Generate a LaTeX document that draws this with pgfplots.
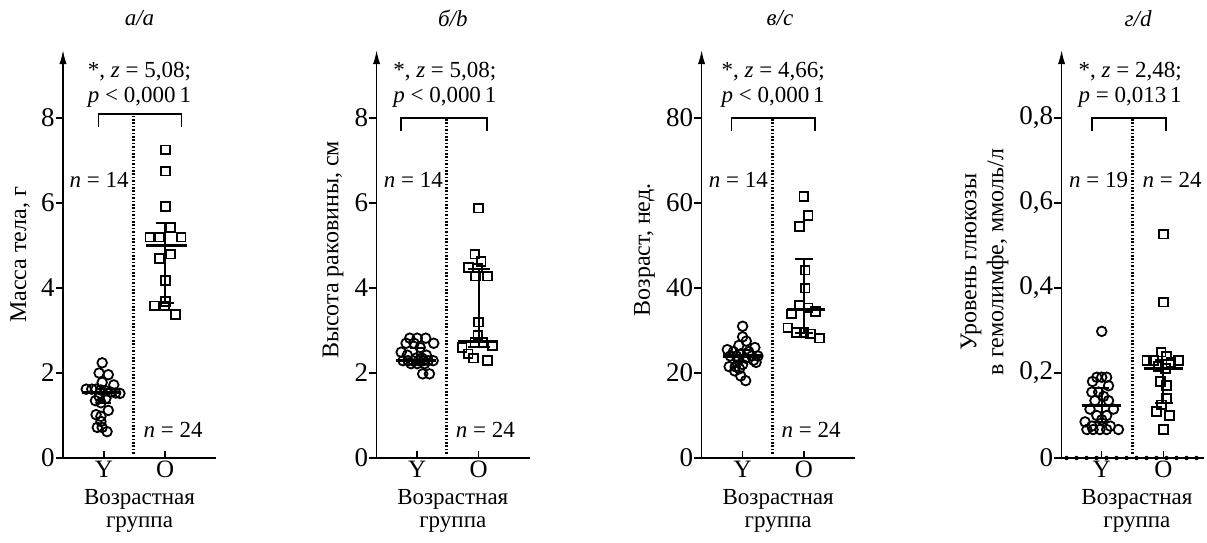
\documentclass[border=0pt]{standalone}
\usepackage{fontspec}
\setmainfont{Liberation Serif}
\usepackage{pgfplots}
\pgfplotsset{compat=1.18}
\usetikzlibrary{arrows.meta,calc}
\pgfplotsset{
  myax/.style={
    scale only axis, width=76.5pt, height=204pt,
    axis x line*=bottom, axis y line*=left,
    axis line style={line width=0.75pt},
    y axis line style={-{Latex[length=7pt,width=3.6pt]}},
    xtick={1,2}, xticklabels={Y,O},
    xmin=0.33, xmax=2.83, ymin=0,
    clip=false,
    xtick align=inside, ytick align=outside,
    major tick length=3.6pt,
    tick style={black, line width=0.75pt},
    minor tick num=0,
    /pgf/number format/assume math mode=true,
    /pgf/number format/use comma,
    /pgf/number format/1000 sep={},
    yticklabel style={inner xsep=0.4pt, font=\fontsize{13.5}{16}\selectfont},
    xticklabel style={inner ysep=1.5pt, font=\fontsize{12.5}{15}\selectfont},
  },
  circ/.style={only marks, mark=o, mark size=2.4pt, mark options={line width=0.9pt, black}},
  sq/.style={only marks, mark=square, mark size=2.2pt, mark options={line width=0.9pt, black}},
  med/.style={black, line width=1.6pt, no marks, forget plot},
  eb/.style={black, line width=1.0pt, no marks, forget plot},
}
\tikzset{
  dotv/.style={line width=1.2pt, dash pattern=on 0.8pt off 0.9pt},
  brk/.style={line width=0.75pt},
  xl1/.style={anchor=base, yshift=-23pt},
  xl2/.style={anchor=base, yshift=-34.8pt},
  yl/.style={rotate=90, font=\fontsize{12}{14}\selectfont},
}
\begin{document}
\fontsize{11.5}{14}\selectfont
\begin{tikzpicture}
\path[use as bounding box] (0,0) rectangle (603.5pt,-271pt);

% ---------------- Panel a ----------------
\begin{axis}[myax, name=a, at={(31.5pt,-229pt)}, anchor=south west,
  ymax=9.6, ytick={0,2,4,6,8}]
\addplot[circ] coordinates {(0.97,2.24) (0.92,2.0) (1.07,1.96) (0.97,1.78) (1.16,1.72) (0.71,1.62) (0.80,1.62) (0.87,1.62) (0.95,1.60) (1.03,1.58) (1.11,1.55) (1.19,1.53) (1.26,1.52) (0.92,1.45) (1.03,1.40) (0.86,1.35) (0.95,1.30) (1.07,1.12) (0.87,1.02) (0.95,0.98) (0.95,0.86) (0.89,0.72) (0.97,0.72) (1.05,0.62)};
\addplot[sq] coordinates {(2.0,7.25) (2.0,6.75) (2.0,5.92) (2.09,5.42) (1.75,5.2) (1.91,5.2) (2.26,5.2) (2.09,4.8) (1.91,4.7) (2.0,4.18) (2.0,3.68) (1.82,3.58) (1.99,3.58) (2.17,3.38)};
\addplot[med] coordinates {(0.64,1.55) (1.27,1.55)};
\addplot[eb] coordinates {(1,1.30) (1,1.62)};
\addplot[eb] coordinates {(0.88,1.62) (1.12,1.62)};
\addplot[eb] coordinates {(0.88,1.30) (1.12,1.30)};
\addplot[med] coordinates {(1.69,5.0) (2.35,5.0)};
\addplot[eb] coordinates {(2,3.65) (2,5.53)};
\addplot[eb] coordinates {(1.85,5.53) (2.15,5.53)};
\addplot[eb] coordinates {(1.90,3.65) (2.15,3.65)};
\draw[dotv] (axis cs:1.48,0.1) -- (axis cs:1.48,8.1);
\draw[brk] (axis cs:0.907,7.8) -- (axis cs:0.907,8.1) -- (axis cs:2.264,8.1) -- (axis cs:2.264,7.8);
\node at (axis cs:1.58,9.08) {*, \textit{z} = 5,08;};
\node at (axis cs:1.58,8.49) {\textit{p} < 0,000\,1};
\node at (axis cs:0.92,6.54) {\textit{n} = 14};
\node at (axis cs:2.13,0.66) {\textit{n} = 24};
\node at (axis cs:1.58,10.35) {\textit{а/a}};
\node[xl1] at (axis cs:1.58,0) {Возрастная};
\node[xl2] at (axis cs:1.58,0) {группа};
\end{axis}
\node[yl] at ($(a.south west)+(-21.5pt,101.5pt)$) {Масса тела, г};

% ---------------- Panel b ----------------
\begin{axis}[myax, name=b, at={(188.3pt,-229pt)}, anchor=south west,
  xmin=0.34, ymax=9.6, ytick={0,2,4,6,8}]
\addplot[circ] coordinates {(0.88,2.82) (1.0,2.82) (1.14,2.82) (0.82,2.70) (1.27,2.70) (0.95,2.70) (1.05,2.60) (0.74,2.49) (0.84,2.42) (1.15,2.42) (0.98,2.35) (1.08,2.35) (0.77,2.29) (0.85,2.29) (0.93,2.29) (1.02,2.29) (1.10,2.29) (1.18,2.29) (1.26,2.29) (0.90,2.22) (1.0,2.22) (1.12,2.22) (1.09,1.98) (1.20,1.98)};
\addplot[sq] coordinates {(2.0,5.88) (1.94,4.8) (2.04,4.62) (1.84,4.48) (1.99,4.47) (1.95,4.28) (2.14,4.28) (2.0,3.2) (1.99,2.88) (1.94,2.72) (2.07,2.72) (2.23,2.65) (1.73,2.6) (1.83,2.45) (1.92,2.35) (2.14,2.3)};
\addplot[med] coordinates {(0.66,2.29) (1.31,2.29)};
\addplot[eb] coordinates {(1,2.22) (1,2.60)};
\addplot[eb] coordinates {(0.88,2.60) (1.12,2.60)};
\addplot[eb] coordinates {(0.88,2.22) (1.12,2.22)};
\addplot[med] coordinates {(1.66,2.75) (2.31,2.75)};
\addplot[eb] coordinates {(2,2.62) (2,4.45)};
\addplot[eb] coordinates {(1.83,4.45) (2.18,4.45)};
\addplot[eb] coordinates {(1.83,2.62) (2.18,2.62)};
\draw[dotv] (axis cs:1.48,0.1) -- (axis cs:1.48,8.0);
\draw[brk] (axis cs:0.735,7.7) -- (axis cs:0.735,8.0) -- (axis cs:2.14,8.0) -- (axis cs:2.14,7.7);
\node at (axis cs:1.45,9.08) {*, \textit{z} = 5,08;};
\node at (axis cs:1.45,8.49) {\textit{p} < 0,000\,1};
\node at (axis cs:0.94,6.54) {\textit{n} = 14};
\node at (axis cs:2.11,0.66) {\textit{n} = 24};
\node at (axis cs:1.58,10.35) {\textit{б/b}};
\node[xl1] at (axis cs:1.58,0) {Возрастная};
\node[xl2] at (axis cs:1.58,0) {группа};
\end{axis}
\node[yl] at ($(b.south west)+(-21.8pt,104pt)$) {Высота раковины, см};

% ---------------- Panel c ----------------
\begin{axis}[myax, name=c, at={(350.8pt,-229pt)}, anchor=south west,
  ymax=96, ytick={0,20,40,60,80}]
\addplot[circ] coordinates {(1.0,31.0) (1.0,28.5) (1.06,27.5) (0.94,26.5) (1.2,26.0) (0.75,25.5) (0.85,25.0) (1.1,25.0) (0.97,24.5) (0.8,24.0) (0.9,24.0) (1.15,24.0) (1.25,24.0) (1.05,23.5) (0.93,23.0) (1.18,23.0) (1.22,22.5) (1.0,22.0) (0.78,21.5) (0.88,21.5) (0.95,21.0) (0.87,20.5) (0.97,19.3) (1.05,18.2)};
\addplot[sq] coordinates {(2.0,61.6) (2.07,57.0) (1.93,54.5) (2.02,44.2) (2.02,40.0) (1.93,35.9) (2.07,35.3) (2.19,34.5) (1.80,33.9) (1.74,30.6) (1.88,29.5) (2.0,29.5) (2.11,29.2) (2.26,28.2)};
\addplot[med] coordinates {(0.68,24.0) (1.34,24.0)};
\addplot[eb] coordinates {(1,22.5) (1,25.5)};
\addplot[eb] coordinates {(0.88,25.5) (1.12,25.5)};
\addplot[eb] coordinates {(0.88,22.5) (1.12,22.5)};
\addplot[med] coordinates {(1.72,35.0) (2.34,35.0)};
\addplot[eb] coordinates {(2,29.5) (2,46.9)};
\addplot[eb] coordinates {(1.85,46.9) (2.15,46.9)};
\addplot[eb] coordinates {(1.85,29.5) (2.15,29.5)};
\draw[dotv] (axis cs:1.49,1) -- (axis cs:1.49,80);
\draw[brk] (axis cs:0.82,77) -- (axis cs:0.82,80) -- (axis cs:2.18,80) -- (axis cs:2.18,77);
\node at (axis cs:1.5,90.8) {*, \textit{z} = 4,66;};
\node at (axis cs:1.5,84.9) {\textit{p} < 0,000\,1};
\node at (axis cs:0.93,65.4) {\textit{n} = 14};
\node at (axis cs:2.12,6.6) {\textit{n} = 24};
\node at (axis cs:1.61,103.5) {\textit{в/c}};
\node[xl1] at (axis cs:1.58,0) {Возрастная};
\node[xl2] at (axis cs:1.58,0) {группа};
\end{axis}
\node[yl] at ($(c.south west)+(-28.5pt,104pt)$) {Возраст, нед.};

% ---------------- Panel d ----------------
\begin{axis}[myax, name=d, at={(530.8pt,-229pt)}, anchor=south west,
  width=71pt, xmin=0.35, xmax=2.65,
  ymax=0.96, ytick={0,0.2,0.4,0.6,0.8}]
\addplot[circ] coordinates {(1.0,0.298) (0.92,0.19) (1.0,0.19) (1.08,0.19) (0.85,0.18) (1.11,0.17) (0.84,0.155) (0.95,0.155) (1.03,0.145) (0.89,0.135) (1.11,0.135) (0.81,0.115) (1.19,0.115) (0.92,0.10) (1.08,0.10) (0.73,0.085) (0.84,0.075) (1.14,0.075) (0.76,0.067) (0.86,0.067) (0.97,0.067) (1.08,0.067) (1.27,0.067) (1.0,0.09)};
\addplot[sq] coordinates {(2.0,0.527) (2.0,0.367) (1.96,0.249) (2.05,0.24) (1.73,0.23) (1.84,0.23) (2.24,0.23) (2.12,0.225) (1.92,0.215) (2.03,0.21) (1.95,0.18) (2.05,0.17) (2.05,0.14) (1.97,0.125) (1.89,0.11) (2.1,0.10) (2.0,0.067)};
\addplot[med] coordinates {(0.68,0.124) (1.32,0.124)};
\addplot[eb] coordinates {(1,0.085) (1,0.165)};
\addplot[eb] coordinates {(0.88,0.165) (1.12,0.165)};
\addplot[eb] coordinates {(0.88,0.085) (1.12,0.085)};
\addplot[med] coordinates {(1.68,0.21) (2.32,0.21)};
\addplot[eb] coordinates {(2,0.13) (2,0.23)};
\addplot[eb] coordinates {(1.87,0.23) (2.16,0.23)};
\addplot[eb] coordinates {(1.87,0.13) (2.16,0.13)};
\draw[line width=2.2pt, dash pattern=on 0pt off 5pt, line cap=round] (axis cs:0.43,0) -- (axis cs:2.65,0);
\draw[dotv] (axis cs:1.50,0.01) -- (axis cs:1.50,0.8);
\draw[brk] (axis cs:0.84,0.77) -- (axis cs:0.84,0.8) -- (axis cs:2.04,0.8) -- (axis cs:2.04,0.77);
\node at (axis cs:1.46,0.908) {*, \textit{z} = 2,48;};
\node at (axis cs:1.46,0.849) {\textit{p} = 0,013\,1};
\node at (axis cs:0.95,0.654) {\textit{n} = 19};
\node at (axis cs:2.14,0.654) {\textit{n} = 24};
\node at (axis cs:1.59,1.035) {\textit{г/d}};
\node[xl1] at (axis cs:1.57,0) {Возрастная};
\node[xl2] at (axis cs:1.57,0) {группа};
\end{axis}
\node[rotate=90, align=center, font=\fontsize{12}{13.5}\selectfont] at ($(d.south west)+(-38.5pt,98pt)$) {Уровень глюкозы\\в гемолимфе, ммоль/л};
\end{tikzpicture}
\end{document}
